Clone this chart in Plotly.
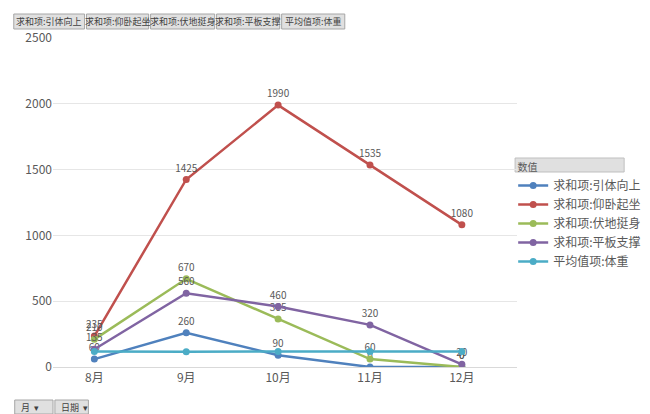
import plotly.graph_objects as go

months = ["8月", "9月", "10月", "11月", "12月"]
pullups = [60, 260, 90, 0, 0]
situps = [235, 1425, 1990, 1535, 1080]
pushups = [210, 670, 365, 60, 0]
plank = [135, 560, 460, 320, 20]
weight = [118, 115, 118, 118, 118]

names = ["求和项:引体向上", "求和项:仰卧起坐", "求和项:伏地挺身", "求和项:平板支撑", "平均值项:体重"]
colors = ["#4F81BD", "#C0504D", "#9BBB59", "#8064A2", "#4BACC6"]
series = [pullups, situps, pushups, plank, weight]

L, R, T, B = 45, 120, 30, 55
W, H = 650, 414


def paperx(px):
    return (px - L) / (W - L - R)


def papery(py):
    return (H - B - py) / (H - T - B)


fig = go.Figure()
for i, (name, vals, c) in enumerate(zip(names, series, colors)):
    fig.add_trace(go.Scatter(
        x=months, y=vals, name=name, mode="lines+markers+text" if i < 4 else "lines+markers",
        text=[str(v) for v in vals], textposition="top center",
        textfont=dict(size=10, color="#595959"),
        line=dict(color=c, width=2.5), marker=dict(color=c, size=7),
    ))

fig.update_layout(
    width=W, height=H, margin=dict(l=L, r=R, t=T, b=B),
    plot_bgcolor="white", paper_bgcolor="white",
    font=dict(family="Noto Sans CJK SC", color="#595959", size=11),
    xaxis=dict(showgrid=False, showline=True, linecolor="#D9D9D9", tickfont=dict(size=12),
               range=[-0.45, 4.6]),
    yaxis=dict(range=[0, 2500], dtick=500, gridcolor="#E6E6E6", zeroline=False,
               tickfont=dict(size=12)),
    legend=dict(x=paperx(526), y=papery(150), xanchor="left", yanchor="top", font=dict(size=12),
                title=dict(text=" 数值", font=dict(size=10)), bgcolor="rgba(0,0,0,0)",
                tracegroupgap=0),
)

btns = [(4, 78), (80, 145), (147, 214), (216, 282), (284, 350)]
for (x0, x1), n in zip(btns, names):
    fig.add_shape(type="rect", xref="paper", yref="paper", x0=paperx(x0), x1=paperx(x1),
                  y0=papery(21), y1=papery(6), fillcolor="#E0E0E0", line=dict(color="#A6A6A6", width=1))
    fig.add_annotation(xref="paper", yref="paper", x=paperx((x0 + x1) / 2), xanchor="center",
                       y=papery(13.5), yanchor="middle",
                       text=n, showarrow=False, font=dict(size=9, color="#404040"))
fig.add_shape(type="rect", xref="paper", yref="paper", x0=paperx(528), x1=paperx(642),
              y0=papery(164), y1=papery(150), fillcolor="#E0E0E0", line=dict(color="#BFBFBF", width=1),
              layer="below")
for (x0, x1), t in [((5, 45), "月"), ((47, 82), "日期")]:
    fig.add_shape(type="rect", xref="paper", yref="paper", x0=paperx(x0), x1=paperx(x1),
                  y0=papery(406), y1=papery(392), fillcolor="#E0E0E0", line=dict(color="#A6A6A6", width=1))
    fig.add_annotation(xref="paper", yref="paper", x=paperx(x0 + 4), xanchor="left",
                       y=papery(399), yanchor="middle",
                       text=t + "  ▾", showarrow=False, font=dict(size=9, color="#404040"))

fig.write_html("out.html")
